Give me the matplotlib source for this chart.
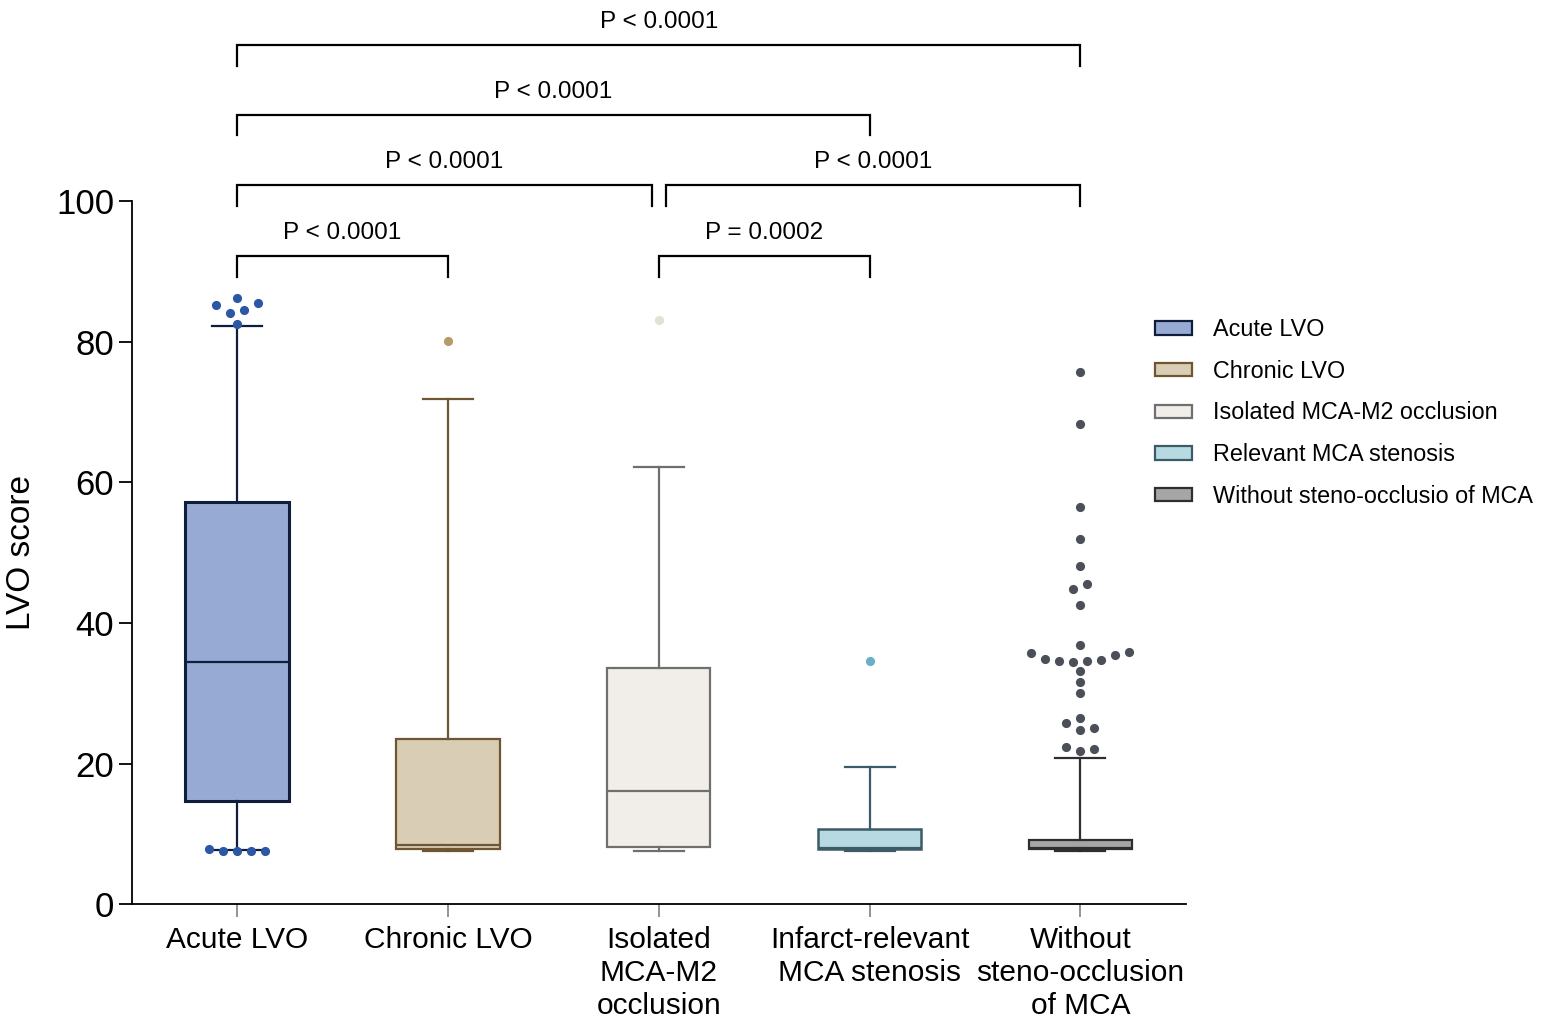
import matplotlib
matplotlib.use("Agg")
import matplotlib.pyplot as plt
from matplotlib.patches import Patch
import numpy as np

plt.rcParams['font.family'] = ['Liberation Sans', 'DejaVu Sans']

# ---------------- data ----------------
categories = ["Acute LVO", "Chronic LVO", "Isolated\nMCA-M2\nocclusion",
              "Infarct-relevant\nMCA stenosis", "Without\nsteno-occlusion\nof MCA"]
legend_labels = ["Acute LVO", "Chronic LVO", "Isolated MCA-M2 occlusion",
                 "Relevant MCA stenosis", "Without steno-occlusio of MCA"]

whisker_low = [7.68, 7.54, 7.54, 7.54, 7.54]
q1 = [14.66, 7.78, 8.11, 7.87, 7.83]
median = [34.44, 8.40, 16.08, 8.00, 8.00]
q3 = [57.21, 23.48, 33.58, 10.67, 9.11]
whisker_high = [82.30, 71.87, 62.19, 19.54, 20.82]

outliers_acute = [82.54, 84.15, 84.57, 85.29, 85.48, 86.28,
                  7.80, 7.60, 7.60, 7.60, 7.60]
outliers_chronic = [80.12]
outliers_m2 = [83.10]
outliers_stenosis = [34.58]
outliers_without = [75.66, 68.35, 56.45, 51.94, 48.06, 44.83, 45.50, 42.51,
                    36.86, 35.68, 34.82, 34.62, 34.40, 34.62, 34.68, 35.39,
                    35.82, 33.20, 31.59, 29.98, 26.51, 25.72, 24.76, 25.00,
                    22.38, 21.77, 22.06]
outliers = [outliers_acute, outliers_chronic, outliers_m2,
            outliers_stenosis, outliers_without]

# comparisons: (group a, group b, bracket level, text)
comparisons = [(0, 1, 1, "P < 0.0001"), (2, 3, 1, "P = 0.0002"),
               (0, 2, 2, "P < 0.0001"), (2, 4, 2, "P < 0.0001"),
               (0, 3, 3, "P < 0.0001"), (0, 4, 4, "P < 0.0001")]

# styles
face_colors = ["#97aad3", "#dacdb5", "#f1eee9", "#b7d9e2", "#a6a6a6"]
edge_colors = ["#0f1e3c", "#6e5633", "#6f6f6f", "#3d5b66", "#2e2e2e"]
point_colors = ["#2c57a5", "#b89a68", "#e3e1d3", "#6aafc9", "#4b4f57"]
box_lw = [2.2, 1.6, 1.6, 1.8, 1.6]

# ---------------- figure ----------------
fig = plt.figure(figsize=(15.64, 10.25), dpi=100)
ax = fig.add_axes([0.0842, 0.118, 0.6740, 0.6856])
ax.set_xlim(-0.5, 4.5)
ax.set_ylim(0, 100)

positions = np.arange(len(categories))
for i in range(len(categories)):
    stats = [dict(med=median[i], q1=q1[i], q3=q3[i],
                  whislo=whisker_low[i], whishi=whisker_high[i], fliers=[])]
    ax.bxp(stats, positions=[positions[i]], widths=0.49, capwidths=0.237,
           patch_artist=True, showfliers=False,
           boxprops=dict(facecolor=face_colors[i], edgecolor=edge_colors[i],
                         linewidth=box_lw[i]),
           medianprops=dict(color=edge_colors[i], linewidth=1.6),
           whiskerprops=dict(color=edge_colors[i], linewidth=1.6),
           capprops=dict(color=edge_colors[i], linewidth=1.6))

# Prism-like dot rows: group close values into rows, spread symmetrically
fig_w_px = fig.get_figwidth() * fig.dpi
ax_w_px = ax.get_position().width * fig_w_px
step = 14.0 / (ax_w_px / 5.0)  # 14 px in category units
row_gap = 0.75

for i, vals in enumerate(outliers):
    vals_sorted = sorted(vals)
    rows = []
    for v in vals_sorted:
        if rows and v - rows[-1][-1] <= row_gap:
            rows[-1].append(v)
        else:
            rows.append([v])
    xs, ys = [], []
    for row in rows:
        n = len(row)
        if n % 2 == 1:
            offs = [0.0]
            k = 1
            while len(offs) < n:
                offs.append(k * step)
                if len(offs) < n:
                    offs.append(-k * step)
                k += 1
        else:
            offs = []
            k = 0
            while len(offs) < n:
                offs.append(-(k + 0.5) * step)
                offs.append((k + 0.5) * step)
                k += 1
        for v, o in zip(row, offs):
            xs.append(positions[i] + o)
            ys.append(v)
    ax.plot(xs, ys, 'o', color=point_colors[i], markersize=6.6,
            markeredgewidth=0, clip_on=False, zorder=5)

# brackets
level_y = {1: 92.2, 2: 102.3, 3: 112.3, 4: 122.2}
drop = 2.9
for a, b, lvl, txt in comparisons:
    xa, xb = positions[a], positions[b]
    if lvl == 2 and b == 2:
        xb -= 0.033
    if lvl == 2 and a == 2:
        xa += 0.033
    y = level_y[lvl]
    ax.plot([xa, xa, xb, xb], [y - drop, y, y, y - drop], color="black",
            linewidth=1.6, clip_on=False, solid_joinstyle='miter')
    ax.text((xa + xb) / 2, y + 2.4, txt, ha="center", va="baseline",
            fontsize=17.5, clip_on=False)

# axes styling
for s in ["top", "right"]:
    ax.spines[s].set_visible(False)
ax.spines["left"].set_linewidth(1.3)
ax.spines["bottom"].set_linewidth(1.3)
ax.set_yticks([0, 20, 40, 60, 80, 100])
ax.tick_params(axis="y", direction="out", length=9.5, width=1.3,
               labelsize=25, pad=3)
ax.set_xticks(positions)
ax.set_xticklabels(categories, linespacing=1.24)
ax.tick_params(axis="x", direction="out", length=9.5, width=1.3,
               colors="#8a8a8a", labelcolor="black", labelsize=21.5, pad=6)
ax.set_ylabel("LVO score", fontsize=24, labelpad=14)

# legend
handles = [Patch(facecolor=face_colors[i], edgecolor=edge_colors[i],
                 linewidth=1.6) for i in range(len(categories))]
fig.legend(handles, legend_labels, loc="upper left",
           bbox_to_anchor=(0.731, 0.701), frameon=False, fontsize=16.8,
           handlelength=1.6, handleheight=0.5, handletextpad=0.9,
           labelspacing=0.8, borderpad=0)

fig.savefig("out.png", dpi=100)
